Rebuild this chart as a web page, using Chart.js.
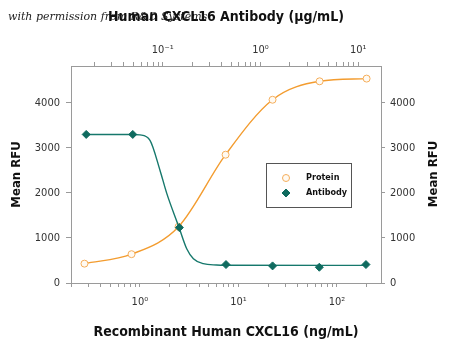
<!DOCTYPE html>
<html>
<head>
<meta charset="utf-8">
<script src="https://cdn.jsdelivr.net/npm/chart.js@4"></script>
<style>
  html, body { margin: 0; padding: 0; background: #fff; }
  #wrap { position: relative; width: 450px; height: 346px; }
</style>
</head>
<body>
<div id="wrap"><canvas id="c"></canvas></div>
<script>
// values
const proteinConc  = [0.274, 0.823, 2.47, 7.41, 22.2, 66.7, 200];   // ng/mL (bottom axis)
const proteinRFU   = [430, 640, 1250, 2850, 4070, 4480, 4540];
const antibodyConc = [0.0165, 0.0494, 0.148, 0.444, 1.33, 4, 12];  // µg/mL (top axis)
const antibodyRFU  = [3300, 3300, 1230, 410, 380, 350, 410];
// fitted antibody curve
const antibodyFitConc = [0.0165, 0.0494, 0.0586, 0.0741, 0.0939, 0.110, 0.147, 0.176, 0.206, 0.26, 0.356, 0.444, 12];
const antibodyFitRFU  = [3300, 3300, 3290, 3170, 2500, 1990, 1231, 760, 540, 430, 400, 395, 392];
const rfuTicks = [0, 1000, 2000, 3000, 4000];

const FONT = "'Liberation Sans Narrow', 'DejaVu Sans Condensed', 'Roboto', sans-serif";
const ORANGE = '#F39C2F';
const TEAL = '#16786C';
const AXIS = '#9a9a9a';

const SUP = { '-': '⁻', '0': '⁰', '1': '¹', '2': '²', '3': '³' };
function powLabel(v) {
  const e = Math.round(Math.log10(v));
  if (Math.abs(v / Math.pow(10, e) - 1) > 1e-6) return '';
  return '10' + String(e).split('').map(c => SUP[c]).join('');
}
function logTicks(scale) {
  const t = [];
  for (let e = -3; e <= 3; e++) {
    for (let k = 1; k <= 9; k++) {
      const v = k * Math.pow(10, e);
      if (v >= scale.min && v <= scale.max) t.push({ value: v });
    }
  }
  scale.ticks = t;
}

// legend inside the plot, right title bottom-to-top, watermark text
const extras = {
  id: 'extras',
  beforeDraw(chart) {
    const ctx = chart.ctx;
    ctx.save();
    ctx.fillStyle = '#222';
    ctx.font = "italic 11px 'DejaVu Serif', serif";
    ctx.textBaseline = 'middle';
    ctx.fillText('with permission from R&D Systems', 8, 17);
    ctx.restore();
  },
  afterDraw(chart) {
    const ctx = chart.ctx;
    ctx.save();
    ctx.translate(434, 174);
    ctx.rotate(-Math.PI / 2);
    ctx.fillStyle = '#111';
    ctx.font = 'bold 13px ' + FONT;
    ctx.textAlign = 'center';
    ctx.textBaseline = 'middle';
    ctx.fillText('Mean RFU', 0, 0);
    ctx.restore();

    ctx.save();
    ctx.fillStyle = '#fff';
    ctx.fillRect(266, 163, 85, 44);
    ctx.strokeStyle = '#555';
    ctx.lineWidth = 1;
    ctx.strokeRect(266.5, 163.5, 85, 44);
    ['Protein', 'Antibody'].forEach((name, i) => {
      const ds = chart.data.datasets.find(d => d.label === name);
      const y = 178 + i * 15;
      const r = ds.pointRadius;
      ctx.fillStyle = ds.pointBackgroundColor;
      ctx.strokeStyle = ds.pointBorderColor;
      ctx.lineWidth = ds.pointBorderWidth;
      ctx.beginPath();
      if (ds.pointStyle === 'circle') {
        ctx.arc(286, y, r, 0, Math.PI * 2);
      } else {
        ctx.moveTo(286, y - r); ctx.lineTo(286 + r, y); ctx.lineTo(286, y + r); ctx.lineTo(286 - r, y); ctx.closePath();
      }
      ctx.fill(); ctx.stroke();
      ctx.fillStyle = '#111';
      ctx.font = 'bold 9px ' + FONT;
      ctx.textBaseline = 'middle';
      ctx.fillText(ds.label, 306, y);
    });
    ctx.restore();
  }
};

new Chart(document.getElementById('c'), {
  type: 'line',
  data: {
    datasets: [
      {
        label: 'Antibody',
        xAxisID: 'x2',
        data: antibodyConc.map((x, i) => ({ x, y: antibodyRFU[i] })),
        showLine: false,
        pointStyle: 'rectRot', pointRadius: 4, pointBorderWidth: 1,
        pointBackgroundColor: '#0f6b5f', pointBorderColor: '#0f6b5f',
        order: 1
      },
      {
        label: 'Antibody fit',
        xAxisID: 'x2',
        data: antibodyFitConc.map((x, i) => ({ x, y: antibodyFitRFU[i] })),
        borderColor: TEAL, borderWidth: 1.4, pointRadius: 0,
        cubicInterpolationMode: 'monotone', order: 2
      },
      {
        label: 'Protein',
        xAxisID: 'x',
        data: proteinConc.map((x, i) => ({ x, y: proteinRFU[i] })),
        borderColor: ORANGE, borderWidth: 1.4,
        pointStyle: 'circle', pointRadius: 3.5, pointBorderWidth: 1,
        pointBackgroundColor: '#fffaf2', pointBorderColor: '#F5AE5C',
        cubicInterpolationMode: 'monotone', order: 3
      }
    ]
  },
  options: {
    responsive: true, maintainAspectRatio: false, animation: false,
    layout: { padding: 0 },
    plugins: { legend: { display: false }, tooltip: { enabled: false } },
    scales: {
      x: {
        type: 'logarithmic', position: 'bottom', min: 0.2, max: 280,
        afterBuildTicks: logTicks,
        afterFit(s) { s.height = 63; },
        grid: { drawOnChartArea: false, tickLength: 4, color: AXIS },
        border: { color: AXIS },
        ticks: { autoSkip: false, maxRotation: 0, padding: 9, color: '#333', font: { family: FONT, size: 11 }, callback: v => powLabel(v) },
        title: { display: true, text: 'Recombinant Human CXCL16 (ng/mL)', color: '#111', font: { family: FONT, size: 14, weight: 'bold' }, padding: { top: 0, bottom: 5 } }
      },
      x2: {
        type: 'logarithmic', position: 'top', min: 0.01153, max: 17.1,
        afterBuildTicks: logTicks,
        afterFit(s) { s.height = 66; },
        grid: { drawOnChartArea: false, tickLength: 4, color: AXIS },
        border: { color: AXIS },
        ticks: { autoSkip: false, maxRotation: 0, padding: 5, color: '#333', font: { family: FONT, size: 11 }, callback: v => powLabel(v) },
        title: { display: true, text: 'Human CXCL16 Antibody (μg/mL)', color: '#111', font: { family: FONT, size: 14, weight: 'bold' }, padding: { top: 9, bottom: 0 } }
      },
      y: {
        position: 'left', min: 0, max: 4820,
        afterBuildTicks(s) { s.ticks = rfuTicks.map(v => ({ value: v })); },
        afterFit(s) { s.width = 71; },
        grid: { drawOnChartArea: false, tickLength: 5, color: AXIS },
        border: { color: AXIS },
        ticks: { padding: 6, color: '#333', font: { family: FONT, size: 11 }, callback: v => String(v) },
        title: { display: true, text: 'Mean RFU', color: '#111', font: { family: FONT, size: 13, weight: 'bold' }, padding: { top: 9, bottom: 0 } }
      },
      y2: {
        position: 'right', min: 0, max: 4820,
        afterBuildTicks(s) { s.ticks = rfuTicks.map(v => ({ value: v })); },
        afterFit(s) { s.width = 69; },
        grid: { drawOnChartArea: false, tickLength: 4, color: AXIS },
        border: { color: AXIS },
        ticks: { padding: 5, color: '#333', font: { family: FONT, size: 11 }, callback: v => String(v) }
      }
    }
  },
  plugins: [extras]
});
</script>
</body>
</html>
